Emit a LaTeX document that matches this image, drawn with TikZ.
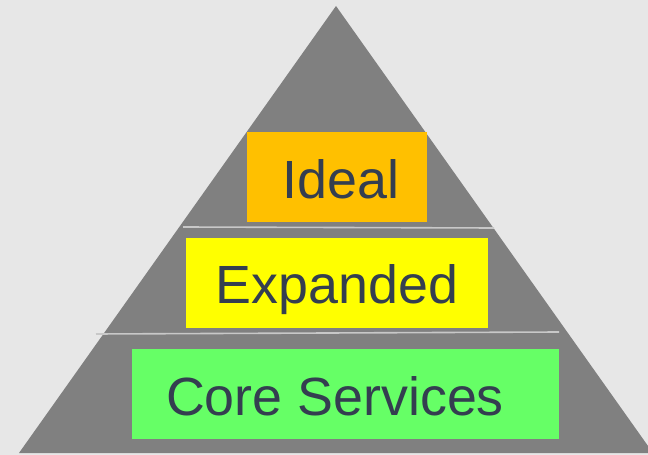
\documentclass[tikz,border=0pt]{standalone}
\usepackage{fontspec}
\setmainfont{Liberation Sans}
\definecolor{bgc}{RGB}{231,231,231}
\definecolor{tri}{RGB}{128,128,128}
\definecolor{txt}{RGB}{52,62,80}
\definecolor{orangec}{RGB}{255,192,0}
\definecolor{yellowc}{RGB}{255,255,0}
\definecolor{greenc}{RGB}{102,255,102}
\definecolor{sep}{RGB}{200,200,200}
\begin{document}
\begin{tikzpicture}[x=1bp,y=-1bp,
  tier/.style={anchor=base,text=txt,font=\fontsize{54}{60}\selectfont,inner sep=0pt},
  sepline/.style={draw=sep,line width=1.6bp}]
\useasboundingbox (0,0) rectangle (648,455);
\fill[bgc] (0,0) rectangle (648,455);
\coordinate (apex) at (336,6);
\coordinate (bl) at (19,453);
\coordinate (br) at (653,453);
\begin{scope}
\clip (0,0) rectangle (648,455);
\fill[tri] (apex) -- (bl) -- (br) -- cycle;
\end{scope}
\fill[orangec] (247,132) rectangle (427,222);
\fill[yellowc] (186,238) rectangle (488,328);
\fill[greenc] (132,349) rectangle (559,439);
\coordinate (s1a) at (183,227);
\coordinate (s1b) at (494,228);
\coordinate (s2a) at (96,334);
\coordinate (s2b) at (559,332);
\draw[sepline] (s1a) -- (s1b);
\draw[sepline] (s2a) -- (s2b);
\node[tier] (ideal) at (341,199) {Ideal};
\node[tier] (expanded) at (337,304) {Expanded};
\node[tier] (core) at (335,415) {Core Services};
\end{tikzpicture}
\end{document}
